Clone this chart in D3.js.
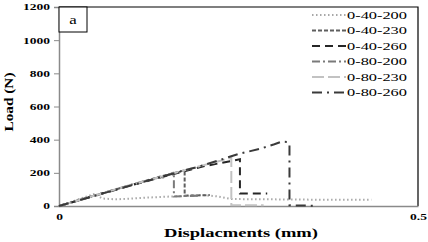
<!DOCTYPE html>
<html>
<head>
<meta charset="utf-8">
<script src="https://cdn.jsdelivr.net/npm/d3@7"></script>
<style>
  body { margin: 0; background: #fff; }
  text { font-family: "Liberation Serif", "Times New Roman", serif; }
</style>
</head>
<body>
<div id="chart"></div>
<script>
// series names (legend order)
const seriesNames = ["0-40-200", "0-40-230", "0-40-260", "0-80-200", "0-80-230", "0-80-260"];

// displacement (mm) / load (N) pairs
const s_40_200 = [[0, 0], [0.05, 74], [0.06, 45], [0.08, 40], [0.12, 50], [0.16, 58], [0.2, 66], [0.22, 58], [0.24, 42], [0.3, 40], [0.36, 38], [0.435, 38]];
const s_40_230 = [[0, 0], [0.05, 64], [0.1, 126], [0.14, 176], [0.175, 216], [0.175, 62], [0.21, 66]];
const s_40_260 = [[0, 0], [0.05, 62], [0.1, 124], [0.15, 182], [0.2, 238], [0.252, 282], [0.252, 76], [0.29, 76]];
const s_80_200 = [[0, 0], [0.05, 64], [0.1, 128], [0.135, 168], [0.145, 172], [0.16, 203], [0.16, 58], [0.195, 62]];
const s_80_230 = [[0, 0], [0.05, 63], [0.1, 127], [0.15, 186], [0.2, 245], [0.24, 290], [0.24, 4], [0.285, 4]];
const s_80_260 = [[0, 0], [0.05, 62], [0.1, 124], [0.15, 185], [0.2, 244], [0.25, 314], [0.28, 345], [0.3, 372], [0.31, 388], [0.318, 386], [0.321, 372], [0.321, 4], [0.355, 2]];

const seriesData = [s_40_200, s_40_230, s_40_260, s_80_200, s_80_230, s_80_260];

const yTicks = [0, 200, 400, 600, 800, 1000, 1200];
const xTicks = [0, 0.5];

const colors = ["#a8a8a8", "#5e5e5e", "#262626", "#7a7a7a", "#c2c2c2", "#3a3a3a"];
const dashes = ["1.5,2.5", "4,2", "8,5", "8,3,2,3", "12,4", "10,5,2,5"];

const W = 428, H = 242;
const margin = { top: 7, right: 10, bottom: 36, left: 59 };
const width = W - margin.left - margin.right,
  height = H - margin.top - margin.bottom;

const svg = d3.select("#chart").append("svg")
  .attr("width", W).attr("height", H);

const g = svg.append("g")
  .attr("transform", "translate(" + margin.left + "," + margin.top + ")");

const x = d3.scaleLinear().domain([0, 0.5]).range([0, width]);
const y = d3.scaleLinear().domain([0, 1200]).range([height, 0]);

// stretch text horizontally (the source picture is widened)
function stretch(sel, k) {
  sel.each(function () {
    const w = this.getComputedTextLength();
    d3.select(this).attr("textLength", w * k).attr("lengthAdjust", "spacingAndGlyphs");
  });
}

// frame (top + right black)
g.append("path")
  .attr("d", "M0,0H" + width + "V" + height)
  .attr("fill", "none").attr("stroke", "#000").attr("stroke-width", 1.2);

// y axis
const yAxis = g.append("g")
  .call(d3.axisLeft(y).tickValues(yTicks).tickSize(5).tickPadding(4).tickFormat(d3.format("d")));
yAxis.select(".domain").attr("stroke", "#8a8a8a").attr("stroke-width", 1.5);
yAxis.selectAll(".tick line").attr("stroke", "#8a8a8a");
yAxis.selectAll("text")
  .attr("font-family", "Liberation Serif").attr("font-weight", "bold")
  .attr("font-size", 9).attr("fill", "#000")
  .call(stretch, 1.5);

// x axis
const xAxis = g.append("g")
  .attr("transform", "translate(0," + height + ")")
  .call(d3.axisBottom(x).tickValues(xTicks).tickSize(0).tickPadding(8)
    .tickFormat(d => d === 0 ? "0" : String(d)));
xAxis.select(".domain").attr("stroke", "#8a8a8a").attr("stroke-width", 1.5);
xAxis.selectAll("text")
  .attr("font-family", "Liberation Serif").attr("font-weight", "bold")
  .attr("font-size", 9).attr("fill", "#000")
  .call(stretch, 1.5);

// lines
const line = d3.line().x(d => x(d[0])).y(d => y(d[1]));
seriesData.forEach((s, i) => {
  g.append("path")
    .datum(s)
    .attr("d", line)
    .attr("fill", "none")
    .attr("stroke", colors[i])
    .attr("stroke-width", 2)
    .attr("stroke-dasharray", dashes[i]);
});

// label box "a"
g.append("rect")
  .attr("x", 0).attr("y", 0).attr("width", 28).attr("height", 25)
  .attr("fill", "#fff").attr("stroke", "#000").attr("stroke-width", 1);
g.append("text")
  .attr("x", 14).attr("y", 17)
  .attr("text-anchor", "middle")
  .attr("font-family", "Liberation Serif")
  .attr("font-size", 12)
  .text("a")
  .call(stretch, 1.4);

// legend
const legend = svg.append("g").attr("transform", "translate(312,15)");
seriesNames.forEach((name, i) => {
  const row = legend.append("g").attr("transform", "translate(0," + i * 15.5 + ")");
  row.append("line")
    .attr("x1", 0).attr("x2", 34).attr("y1", 0).attr("y2", 0)
    .attr("stroke", colors[i]).attr("stroke-width", 2)
    .attr("stroke-dasharray", dashes[i]);
  row.append("text")
    .attr("x", 35).attr("y", 3.5)
    .attr("font-family", "Liberation Serif")
    .attr("font-size", 10)
    .attr("textLength", 60).attr("lengthAdjust", "spacingAndGlyphs")
    .text(name);
});

// axis titles
svg.append("text")
  .attr("x", 241).attr("y", 237)
  .attr("text-anchor", "middle")
  .attr("font-family", "Liberation Serif")
  .attr("font-weight", "bold").attr("font-size", 12)
  .attr("textLength", 154).attr("lengthAdjust", "spacingAndGlyphs")
  .text("Displacments (mm)");

svg.append("text")
  .attr("transform", "translate(13,102) rotate(-90)")
  .attr("text-anchor", "middle")
  .attr("font-family", "Liberation Serif")
  .attr("font-weight", "bold").attr("font-size", 12)
  .attr("textLength", 59).attr("lengthAdjust", "spacingAndGlyphs")
  .text("Load (N)");
</script>
</body>
</html>
